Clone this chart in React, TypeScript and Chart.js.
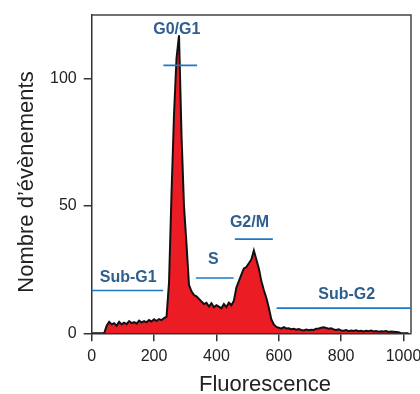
import React, { useEffect, useRef } from "react";
import { Chart, registerables } from "chart.js";

Chart.register(...registerables);

// Histogram: counts per 8-channel bin, starting at channel 0
const binWidth = 8;
const counts = [
  0, 0, 0, 0, 0, 0, 3, 4.5, 3.5, 4, 3, 4.5, 3.5, 4.2, 3.6, 4.8,
  4, 4.4, 3.8, 5, 4.2, 4.8, 4.3, 5.2, 4.6, 5.5, 4.8, 5.6, 5.2, 6, 6.5, 20,
  55, 86, 108, 117, 78, 50, 35, 19, 16.5, 15, 14.5, 13.5, 12.5, 11.5, 12, 10.5,
  11.8, 10.2, 11, 10.5, 9.8, 11.5, 10.3, 12, 11, 12.8, 18, 20.5, 23, 25.5, 26, 27.5,
  29, 32.5, 29, 25.5, 20.5, 17, 14, 10, 5.5, 3.5, 2.5, 2.2, 1.8, 2.4, 1.9, 2,
  1.6, 1.8, 1.4, 1.7, 1.3, 1.1, 1.5, 1.2, 1.4, 1.3, 1.8, 1.9, 2.2, 2.4, 2.1, 1.8,
  2, 1.5, 1.3, 1.6, 1.1, 1, 1.3, 0.8, 1.1, 0.9, 1.2, 0.8, 1, 0.7, 1, 0.8,
  1.1, 0.7, 0.9, 0.6, 0.8, 0.7, 0.9, 0.5, 0.7, 0.6, 0.5, 0.4, 0, 0, 0, 0,
];
const channels = counts.map((_, i) => i * binWidth);

const xTicks = [0, 200, 400, 600, 800, 1000];
const yTicks = [0, 50, 100];
const xMax = 1024;
const yMax = 125;

// Gates (markers) in data coordinates
const gateNames = ["G0/G1", "Sub-G1", "S", "G2/M", "Sub-G2"];
const gateFrom = [230, 0, 334, 459, 593];
const gateTo = [338, 229, 455, 581, 1024];
const gateLevel = [105.2, 16.8, 21.7, 37, 9.9];
const gateLabelX = [273, 117, 390, 506, 818];
const gateLabelY = [117.7, 20.1, 27.4, 41.8, 13.3];

const xTitle = "Fluorescence";
const yTitle = "Nombre d\u2019évènements";

const FONT = "'Liberation Sans', Arial, sans-serif";

const overlay = {
  id: "overlay",
  afterDatasetsDraw(chart: any) {
    const { ctx, chartArea: a, scales } = chart;
    const x = scales.x;
    const y = scales.y;
    ctx.save();
    // top & right frame
    ctx.strokeStyle = "#444";
    ctx.lineWidth = 1.5;
    ctx.beginPath();
    ctx.moveTo(a.left, a.top);
    ctx.lineTo(a.right, a.top);
    ctx.lineTo(a.right, a.bottom);
    ctx.stroke();
    // gates
    gateNames.forEach((name, i) => {
      const yp = y.getPixelForValue(gateLevel[i]);
      ctx.strokeStyle = "#1f78c4";
      ctx.lineWidth = 1.6;
      ctx.beginPath();
      ctx.moveTo(x.getPixelForValue(gateFrom[i]), yp);
      ctx.lineTo(x.getPixelForValue(gateTo[i]), yp);
      ctx.stroke();
      ctx.fillStyle = "#2f5f8e";
      ctx.font = `bold 16px ${FONT}`;
      ctx.textAlign = "center";
      ctx.textBaseline = "alphabetic";
      ctx.fillText(name, x.getPixelForValue(gateLabelX[i]), y.getPixelForValue(gateLabelY[i]));
    });
    // axis titles
    ctx.fillStyle = "#222";
    ctx.font = `22px ${FONT}`;
    ctx.textAlign = "center";
    ctx.textBaseline = "alphabetic";
    ctx.fillText(xTitle, 265, 391);
    ctx.translate(33, 182);
    ctx.rotate(-Math.PI / 2);
    ctx.fillText(yTitle, 0, 0);
    ctx.restore();
  },
};

export default function App() {
  const ref = useRef<HTMLCanvasElement | null>(null);
  useEffect(() => {
    if (!ref.current) return;
    const chart = new Chart(ref.current, {
      type: "line",
      data: {
        datasets: [
          {
            data: counts.map((c, i) => ({ x: channels[i], y: c })),
            backgroundColor: "#ec1c24",
            borderColor: "#111",
            borderWidth: 2,
            pointRadius: 0,
            tension: 0,
            fill: "origin",
          },
        ],
      },
      options: {
        animation: false,
        responsive: false,
        maintainAspectRatio: false,
        layout: { padding: { top: 15, right: 9, left: 0, bottom: 0 } },
        plugins: { legend: { display: false }, tooltip: { enabled: false }, title: { display: false } },
        scales: {
          x: {
            type: "linear",
            min: 0,
            max: xMax,
            afterBuildTicks: (s: any) => {
              s.ticks = xTicks.map((v) => ({ value: v }));
            },
            afterFit: (s: any) => {
              s.height = 60.7;
              s.paddingLeft = 0;
              s.paddingRight = 0;
            },
            grid: { display: true, drawOnChartArea: false, drawTicks: true, tickLength: 8, color: "#333", lineWidth: 1.5 },
            border: { display: true, color: "#333", width: 1.5 },
            ticks: { color: "#222", font: { family: FONT, size: 16 }, padding: 6, maxRotation: 0, callback: (v: any) => String(v) },
          },
          y: {
            min: 0,
            max: yMax,
            afterBuildTicks: (s: any) => {
              s.ticks = yTicks.map((v) => ({ value: v }));
            },
            afterFit: (s: any) => {
              s.width = 91.7;
              s.paddingTop = 0;
              s.paddingBottom = 0;
            },
            grid: { display: true, drawOnChartArea: false, drawTicks: true, tickLength: 8, color: "#333", lineWidth: 1.5 },
            border: { display: true, color: "#333", width: 1.5 },
            ticks: { color: "#222", font: { family: FONT, size: 16 }, padding: 7, callback: (v: any) => String(v) },
          },
        },
      },
      plugins: [overlay],
    });
    return () => chart.destroy();
  }, []);
  return (
    <div style={{ position: "absolute", left: 0, top: 0, width: 420, height: 394 }}>
      <canvas ref={ref} width={420} height={394} style={{ width: 420, height: 394, display: "block" }} />
    </div>
  );
}
